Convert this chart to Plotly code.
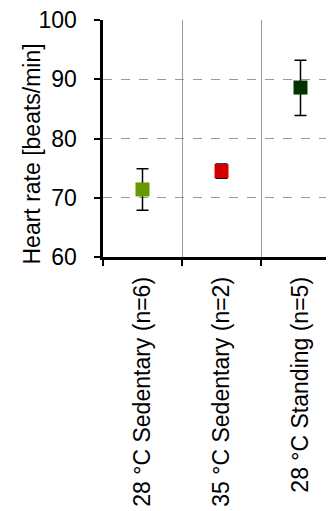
import plotly.graph_objects as go

categories = ["28 °C Sedentary (n=6)", "35 °C Sedentary (n=2)", "28 °C Standing (n=5)"]
means = [71.4, 74.5, 88.6]
err_plus = [3.5, 1.2, 4.6]
err_minus = [3.5, 1.2, 4.7]
colors = ["#669900", "#d40000", "#003300"]
y_ticks = [60, 70, 80, 90, 100]
grid_ticks = [70, 80, 90]
y_title = "Heart rate [beats/min]"

FONT = "Liberation Sans, Arial, sans-serif"

fig = go.Figure()
fig.add_trace(go.Scatter(
    x=categories, y=means, mode="markers",
    marker=dict(symbol="square", size=14, color=colors, line=dict(width=0)),
    error_y=dict(type="data", symmetric=False, array=err_plus, arrayminus=err_minus,
                 color="black", thickness=1.5, width=6),
    showlegend=False,
))
# invisible trace to drive the dashed grid axis
fig.add_trace(go.Scatter(x=categories, y=means, yaxis="y2", mode="markers",
                         marker=dict(opacity=0), showlegend=False, hoverinfo="skip"))

fig.add_annotation(text=y_title, xref="paper", yref="paper", x=0, y=0.5,
                   xanchor="center", yanchor="middle", xshift=-72, yshift=-16,
                   textangle=-90, showarrow=False, font=dict(size=23, family=FONT))

fig.update_layout(
    width=326, height=503,
    margin=dict(l=95, r=0, t=12, b=254, autoexpand=False),
    paper_bgcolor="white", plot_bgcolor="white",
    font=dict(family=FONT, size=23, color="black"),
    xaxis=dict(
        type="category", range=[-0.5, 2.424], automargin=False,
        tickson="boundaries", ticks="outside", ticklen=6, tickwidth=2, tickcolor="black",
        showgrid=True, gridcolor="#999999", gridwidth=1,
        showline=True, linecolor="black", linewidth=2.5,
        tickangle=-90, tickfont=dict(size=23), ticklabelstandoff=8,
        zeroline=False,
    ),
    yaxis=dict(
        range=[60, 100], tickvals=y_ticks,
        ticktext=[f"{v}\u00a0\u00a0" for v in y_ticks],
        ticks="outside", ticklen=6, tickwidth=2,
        tickcolor="black", showgrid=False, automargin=False,
        showline=True, linecolor="black", linewidth=2.5,
        tickfont=dict(size=23), ticklabeloverflow="allow",
        zeroline=False,
    ),
    yaxis2=dict(
        range=[60, 100], overlaying="y", tickvals=grid_ticks, showticklabels=False,
        showgrid=True, gridcolor="#999999", gridwidth=1, griddash="dash",
        showline=False, zeroline=False, ticks="", automargin=False,
    ),
)

fig.write_html("out.html")
